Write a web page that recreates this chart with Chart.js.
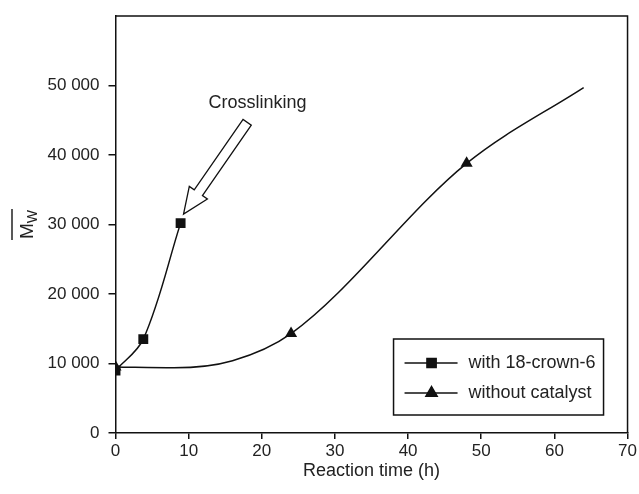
<!DOCTYPE html>
<html>
<head>
<meta charset="utf-8">
<script src="https://cdn.jsdelivr.net/npm/chart.js@4.4.1/dist/chart.umd.min.js"></script>
<style>
  html, body { margin: 0; padding: 0; background: #fff; }
  #wrap { width: 639px; height: 494px; }
</style>
</head>
<body>
<div id="wrap"><canvas id="chartMw" width="639" height="494"></canvas></div>
<script>
  const crownTime = [0, 3.8, 8.9];
  const crownMw = [9000, 13500, 30200];
  const noCatTime = [0, 8, 16, 24, 48, 64];
  const noCatMw = [9500, 9380, 10400, 14300, 38800, 49700];
  const noCatMarker = [true, false, false, true, true, false];

  const xTicks = [0, 10, 20, 30, 40, 50, 60, 70];
  const yTicks = [0, 10000, 20000, 30000, 40000, 50000];

  const legendLabels = ['with 18-crown-6', 'without catalyst'];
  const legendMarkers = ['rect', 'triangle'];

  const noteText = 'Crosslinking';
  const noteAt = [19.4, 47500];
  const arrowTail = [18.0, 44700];
  const arrowTip = [9.3, 31500];

  const ink = '#111';
  const font = '"Liberation Sans", Arial, sans-serif';

  function formatMw(v) {
    if (v === 0) return '0';
    const s = String(v);
    return s.slice(0, s.length - 3) + ' ' + s.slice(-3);
  }

  const toXY = (xs, ys) => xs.map((x, i) => ({ x: x, y: ys[i] }));

  const extras = {
    id: 'extras',
    afterDraw(chart) {
      const { ctx, chartArea: a, scales: { x, y } } = chart;
      ctx.save();

      // top and right frame
      ctx.strokeStyle = ink;
      ctx.lineWidth = 1.5;
      ctx.beginPath();
      ctx.moveTo(a.left, a.top);
      ctx.lineTo(a.right, a.top);
      ctx.lineTo(a.right, a.bottom);
      ctx.stroke();

      // hollow arrow
      const tx = x.getPixelForValue(arrowTip[0]), ty = y.getPixelForValue(arrowTip[1]);
      const sx = x.getPixelForValue(arrowTail[0]), sy = y.getPixelForValue(arrowTail[1]);
      const len = Math.hypot(tx - sx, ty - sy);
      const ux = (tx - sx) / len, uy = (ty - sy) / len;
      const px = -uy, py = ux;
      const headLen = 26, headW = 11, shaftW = 5;
      const bx = tx - ux * headLen, by = ty - uy * headLen;
      ctx.beginPath();
      ctx.moveTo(sx + px * shaftW, sy + py * shaftW);
      ctx.lineTo(bx + px * shaftW, by + py * shaftW);
      ctx.lineTo(bx + px * headW, by + py * headW);
      ctx.lineTo(tx, ty);
      ctx.lineTo(bx - px * headW, by - py * headW);
      ctx.lineTo(bx - px * shaftW, by - py * shaftW);
      ctx.lineTo(sx - px * shaftW, sy - py * shaftW);
      ctx.closePath();
      ctx.fillStyle = '#fff';
      ctx.fill();
      ctx.lineWidth = 1.3;
      ctx.stroke();

      ctx.fillStyle = '#222';
      ctx.font = '18px ' + font;
      ctx.textAlign = 'center';
      ctx.textBaseline = 'middle';
      ctx.fillText(noteText, x.getPixelForValue(noteAt[0]), y.getPixelForValue(noteAt[1]));

      // legend box
      const bw = 210, bh = 76;
      const lx = a.right - 24 - bw, ly = a.bottom - 18 - bh;
      ctx.lineWidth = 1.5;
      ctx.strokeStyle = ink;
      ctx.strokeRect(lx, ly, bw, bh);
      legendLabels.forEach((lab, i) => {
        const ry = ly + 24 + i * 30;
        ctx.beginPath();
        ctx.moveTo(lx + 11, ry);
        ctx.lineTo(lx + 64, ry);
        ctx.stroke();
        ctx.fillStyle = ink;
        Chart.helpers.drawPoint(ctx, { pointStyle: legendMarkers[i], radius: 6.5, rotation: 0, borderWidth: 1 }, lx + 38, ry);
        ctx.fill();
        ctx.fillStyle = '#222';
        ctx.textAlign = 'left';
        ctx.fillText(lab, lx + 75, ry);
      });

      // axis titles
      ctx.textAlign = 'center';
      ctx.fillText('Reaction time (h)', (a.left + a.right) / 2, 471);

      const cy = 227;
      ctx.translate(27, cy);
      ctx.rotate(-Math.PI / 2);
      ctx.font = '19px ' + font;
      ctx.textAlign = 'left';
      ctx.textBaseline = 'alphabetic';
      const mW = ctx.measureText('M').width;
      ctx.fillText('M', -12, 6);
      ctx.font = '14px ' + font;
      ctx.fillText('W', -12 + mW, 10);
      const wW = ctx.measureText('W').width;
      ctx.lineWidth = 1.5;
      ctx.strokeStyle = '#222';
      ctx.beginPath();
      ctx.moveTo(-13, -15);
      ctx.lineTo(-12 + mW + wW + 1, -15);
      ctx.stroke();
      ctx.restore();
    }
  };

  new Chart(document.getElementById('chartMw'), {
    type: 'scatter',
    data: {
      datasets: [
        {
          label: legendLabels[0],
          data: toXY(crownTime, crownMw),
          showLine: true,
          tension: 0.35,
          borderColor: ink,
          borderWidth: 1.5,
          backgroundColor: ink,
          pointStyle: 'rect',
          pointRadius: 7,
          pointBorderWidth: 0
        },
        {
          label: legendLabels[1],
          data: toXY(noCatTime, noCatMw),
          showLine: true,
          cubicInterpolationMode: 'monotone',
          borderColor: ink,
          borderWidth: 1.5,
          backgroundColor: ink,
          pointStyle: 'triangle',
          pointRadius: noCatMarker.map(m => (m ? 7 : 0)),
          pointBorderWidth: 0
        }
      ]
    },
    options: {
      responsive: false,
      animation: false,
      layout: { padding: { top: 16, right: 11, left: 0, bottom: 0 } },
      plugins: { legend: { display: false }, tooltip: { enabled: false } },
      scales: {
        x: {
          type: 'linear',
          min: 0,
          max: 70,
          afterFit: s => { s.height = 61; },
          afterBuildTicks: s => { s.ticks = xTicks.map(v => ({ value: v })); },
          grid: { drawOnChartArea: false, color: ink, tickLength: 6, lineWidth: 1.5 },
          border: { color: ink, width: 1.5 },
          ticks: { color: '#222', font: { family: font, size: 17 }, padding: 2, maxRotation: 0 }
        },
        y: {
          min: 0,
          max: 60000,
          afterFit: s => { s.width = 115.5; s.paddingTop = 0; s.paddingBottom = 0; },
          afterBuildTicks: s => { s.ticks = yTicks.map(v => ({ value: v })); },
          grid: { drawOnChartArea: false, color: ink, tickLength: 7, lineWidth: 1.5 },
          border: { color: ink, width: 1.5 },
          ticks: { color: '#222', font: { family: font, size: 17 }, padding: 9, callback: v => formatMw(v) }
        }
      }
    },
    plugins: [extras]
  });
</script>
</body>
</html>
